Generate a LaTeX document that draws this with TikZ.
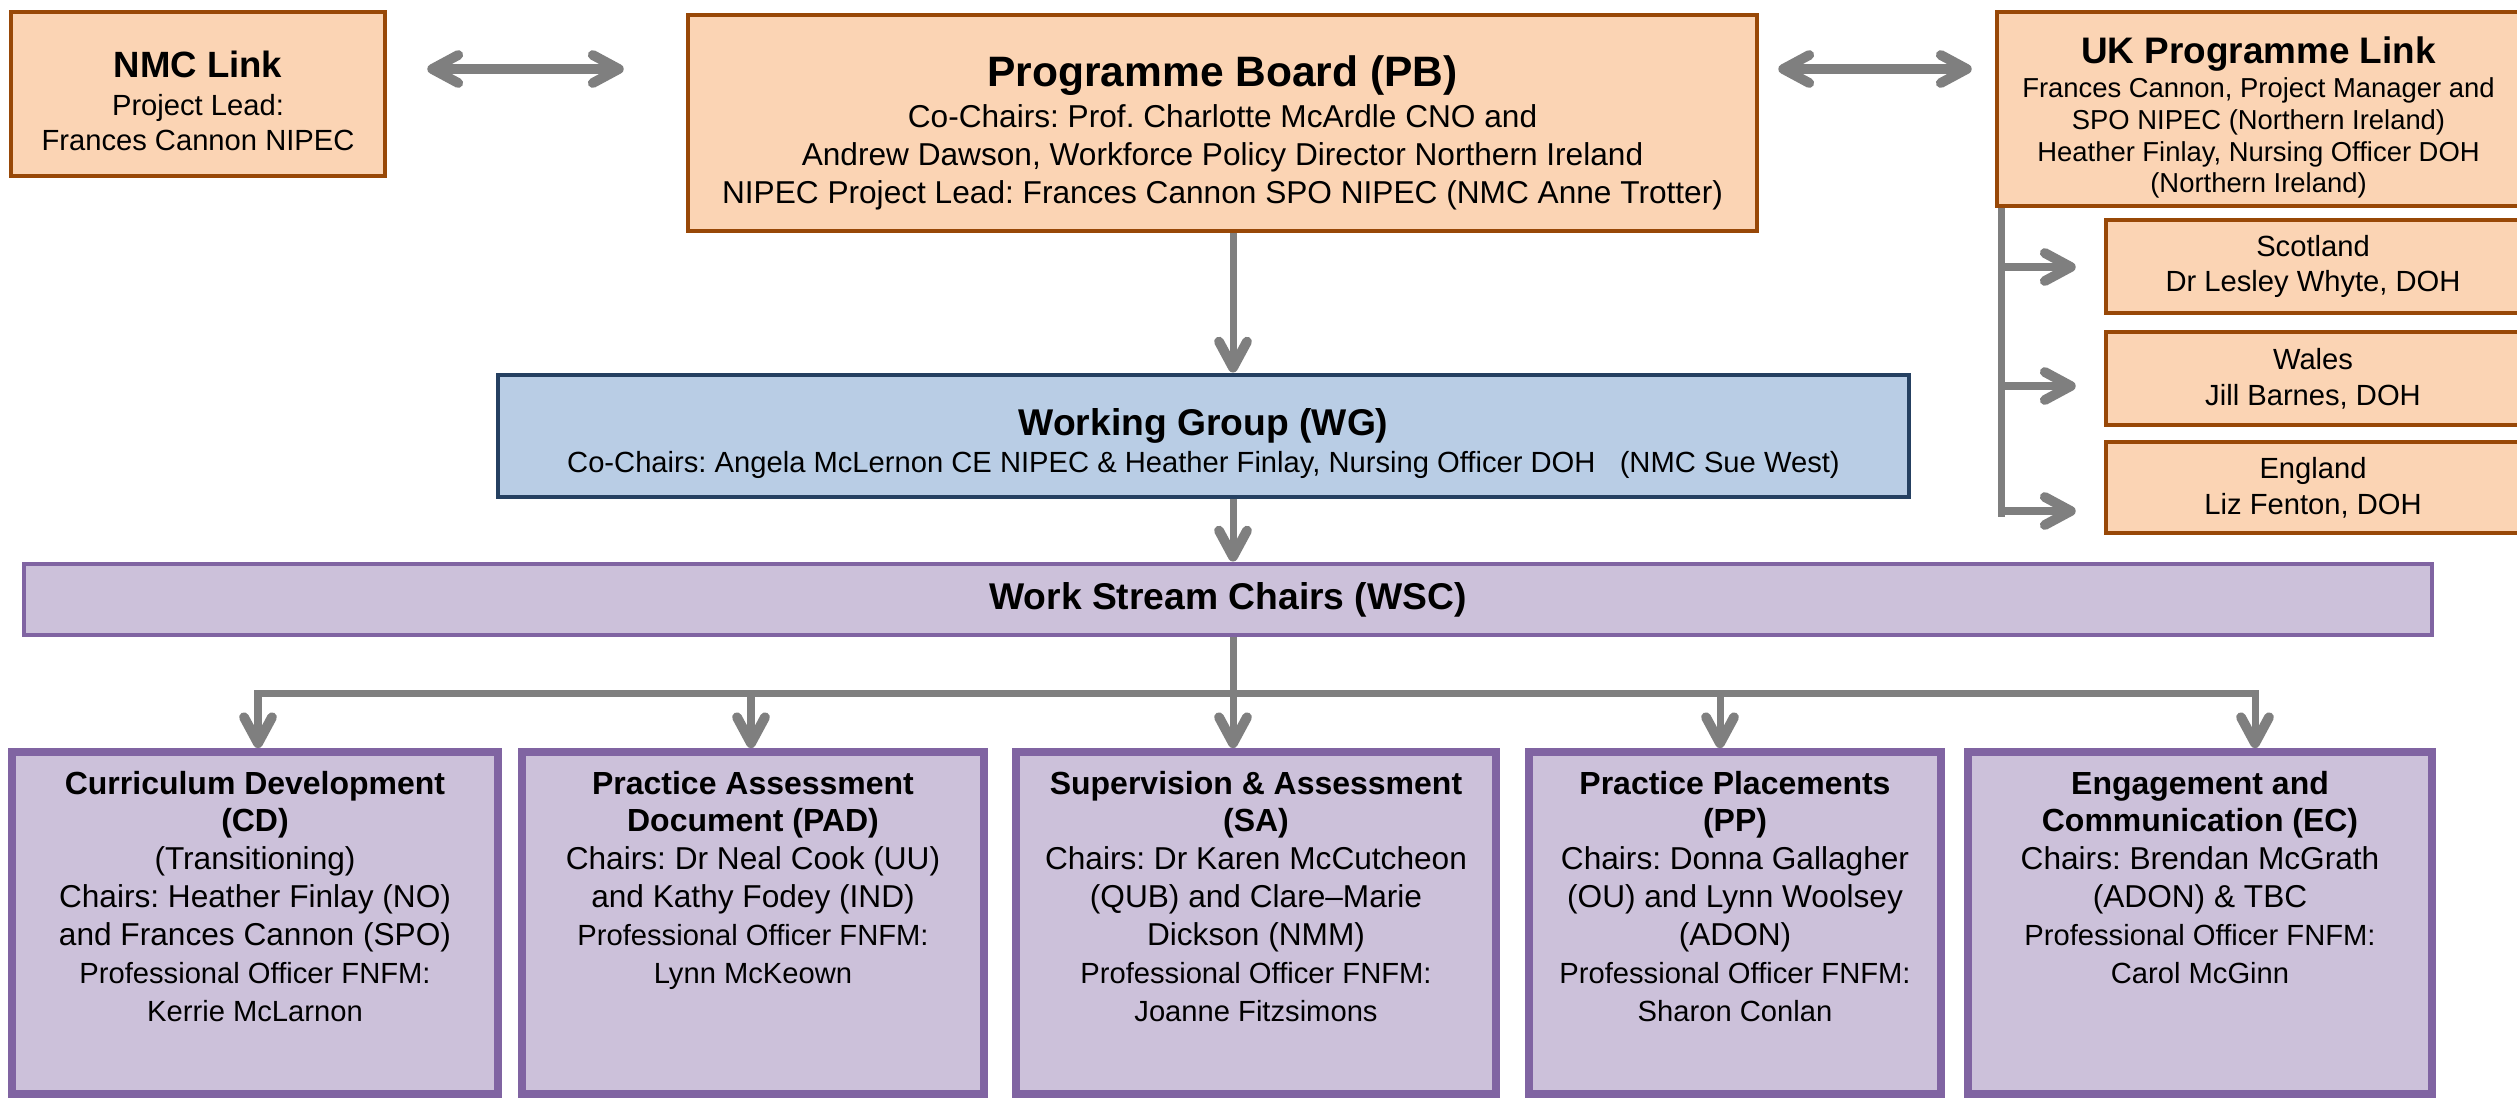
\documentclass[tikz,border=0pt]{standalone}
\usepackage{fontspec}
\setmainfont{Liberation Sans}
\usetikzlibrary{arrows.meta}
\frenchspacing
\definecolor{linkfill}{HTML}{FBD4B4}
\definecolor{linkline}{HTML}{984807}
\definecolor{groupfill}{HTML}{B9CDE5}
\definecolor{groupline}{HTML}{254061}
\definecolor{streamfill}{HTML}{CCC1DA}
\definecolor{streamline}{HTML}{8064A2}
\definecolor{arrowgrey}{HTML}{7F7F7F}
\newcommand{\headline}[2]{{\fontsize{#1}{#1}\selectfont\bfseries #2}}
\newcommand{\officer}[1]{{\fontsize{8.3}{10}\selectfont #1}}
\tikzstyle{linkbox}    = [rectangle, draw=linkline, fill=linkfill, line width=1.3pt, inner sep=0pt, align=center, font=\fontsize{8.3}{10}\selectfont]
\tikzstyle{groupbox}   = [rectangle, draw=groupline, fill=groupfill, line width=1.4pt, inner sep=0pt, align=center, font=\fontsize{8.3}{10.5}\selectfont]
\tikzstyle{chairbar}   = [rectangle, draw=streamline, fill=streamfill, line width=1.4pt, inner sep=0pt]
\tikzstyle{streambox}  = [rectangle, draw=streamline, fill=streamfill, line width=2.2pt, inner sep=0pt, minimum height=3.42cm]
\tikzstyle{streamtext} = [anchor=north, inner sep=0pt, align=center, font=\fontsize{9}{10.8}\selectfont]
\tikzstyle{arrow}      = [line width=2pt, draw=arrowgrey, -{Straight Barb[round, length=2.6mm, width=2.8mm, line width=2.8pt]}]
\tikzstyle{twoway}     = [line width=2.8pt, draw=arrowgrey, {Straight Barb[round, length=2.6mm, width=2.8mm]}-{Straight Barb[round, length=2.6mm, width=2.8mm]}]
\tikzstyle{bus}        = [line width=2pt, draw=arrowgrey, line cap=rect]

\begin{document}
\begin{tikzpicture}
    \useasboundingbox (0,0) rectangle (25.17,-11.02);

    \coordinate (spine) at (12.33,0);
    \coordinate (link row) at (0,-0.69);

    \node[linkbox, minimum width=3.74cm, minimum height=1.64cm] (nmc) at (1.98,-0.94)
        {\headline{10.4}{\rule{0pt}{11.5pt}NMC Link}\\[0.8pt] Project Lead:\\ Frances Cannon NIPEC};
    \node[linkbox, minimum width=10.69cm, minimum height=2.16cm, font=\fontsize{9}{10.8}\selectfont] (pb) at (12.225,-1.23)
        {\headline{12.1}{\rule{0pt}{14.5pt}Programme Board (PB)}\\[1pt] Co-Chairs: Prof. Charlotte McArdle CNO and\\ Andrew Dawson, Workforce Policy Director Northern Ireland\\ NIPEC Project Lead: Frances Cannon SPO NIPEC (NMC Anne Trotter)};
    \node[linkbox, minimum width=5.23cm, minimum height=1.94cm, font=\fontsize{7.8}{9.1}\selectfont] (uk) at (22.585,-1.09)
        {\headline{10.5}{\rule{0pt}{12.5pt}UK Programme Link}\\[0.5pt] Frances Cannon, Project Manager and\\ SPO NIPEC (Northern Ireland)\\ Heather Finlay, Nursing Officer DOH\\ (Northern Ireland)};

    \node[linkbox, minimum width=4.14cm, minimum height=0.93cm, font=\fontsize{8.3}{10.2}\selectfont] (scot) at (23.13,-2.665) {Scotland\\ Dr Lesley Whyte, DOH};
    \node[linkbox, minimum width=4.14cm, minimum height=0.93cm, font=\fontsize{8.3}{10.2}\selectfont] (wales) at (23.13,-3.785) {Wales\\ Jill Barnes, DOH};
    \node[linkbox, minimum width=4.14cm, minimum height=0.91cm, font=\fontsize{8.3}{10.2}\selectfont] (eng) at (23.13,-4.875) {England\\ Liz Fenton, DOH};

    \node[groupbox, minimum width=14.11cm, minimum height=1.22cm] (wg) at (12.035,-4.36)
        {\headline{10.6}{\rule{0pt}{12pt}Working Group (WG)}\\ Co-Chairs: Angela McLernon CE NIPEC \& Heather Finlay, Nursing Officer DOH\ \ \ (NMC Sue West)};
    \node[chairbar, minimum width=24.08cm, minimum height=0.71cm, font=\fontsize{10.6}{12}\selectfont\bfseries] (wsc) at (12.28,-5.995) {Work Stream Chairs (WSC)};

    \node[streambox, minimum width=4.86cm] (cd) at (2.55,-9.23) {};
    \node[streambox, minimum width=4.62cm] (pad) at (7.53,-9.23) {};
    \node[streambox, minimum width=4.80cm] (sa) at (12.56,-9.23) {};
    \node[streambox, minimum width=4.12cm] (pp) at (17.35,-9.23) {};
    \node[streambox, minimum width=4.64cm] (ec) at (22.00,-9.23) {};

    \node[streamtext] (cd text) at ([yshift=-0.22cm]cd.north)
        {\headline{9.1}{Curriculum Development}\\ \headline{9.1}{(CD)}\\ (Transitioning)\\ Chairs: Heather Finlay (NO)\\ and Frances Cannon (SPO)\\ \officer{Professional Officer FNFM:}\\ \officer{Kerrie McLarnon}};
    \node[streamtext] (pad text) at ([yshift=-0.22cm]pad.north)
        {\headline{9.1}{Practice Assessment}\\ \headline{9.1}{Document (PAD)}\\ Chairs: Dr Neal Cook (UU)\\ and Kathy Fodey (IND)\\ \officer{Professional Officer FNFM:}\\ \officer{Lynn McKeown}};
    \node[streamtext] (sa text) at ([yshift=-0.22cm]sa.north)
        {\headline{9.1}{Supervision \& Assessment}\\ \headline{9.1}{(SA)}\\ Chairs: Dr Karen McCutcheon\\ (QUB) and Clare--Marie\\ Dickson (NMM)\\ \officer{Professional Officer FNFM:}\\ \officer{Joanne Fitzsimons}};
    \node[streamtext] (pp text) at ([yshift=-0.22cm]pp.north)
        {\headline{9.1}{Practice Placements}\\ \headline{9.1}{(PP)}\\ Chairs: Donna Gallagher\\ (OU) and Lynn Woolsey\\ (ADON)\\ \officer{Professional Officer FNFM:}\\ \officer{Sharon Conlan}};
    \node[streamtext] (ec text) at ([yshift=-0.22cm]ec.north)
        {\headline{9.1}{Engagement and}\\ \headline{9.1}{Communication (EC)}\\ Chairs: Brendan McGrath\\ (ADON) \& TBC\\ \officer{Professional Officer FNFM:}\\ \officer{Carol McGinn}};

    \draw[twoway, shorten <=0.40cm, shorten >=0.62cm] (nmc.east |- link row) -- (pb.west |- link row);
    \draw[twoway, shorten <=0.19cm, shorten >=0.23cm] (pb.east |- link row) -- (uk.west |- link row);

    \draw[arrow] (pb.south -| spine) -- (wg.north -| spine);
    \draw[arrow] (wg.south -| spine) -- (wsc.north -| spine);

    \coordinate (stem end) at (20.01,-5.17);
    \coordinate (scot branch) at (20.01,-2.67);
    \coordinate (wales branch) at (20.01,-3.86);
    \coordinate (eng branch) at (20.01,-5.11);
    \draw[bus, line cap=butt] (uk.south -| stem end) -- (stem end);
    \draw[arrow, shorten >=0.28cm] (scot branch) -- (scot branch -| scot.west);
    \draw[arrow, shorten >=0.28cm] (wales branch) -- (wales branch -| wales.west);
    \draw[arrow, shorten >=0.28cm] (eng branch) -- (eng branch -| eng.west);

    \coordinate (bus left) at (2.58,-6.93);
    \coordinate (bus right) at (22.55,-6.93);
    \coordinate (pad drop) at (7.51,-6.93);
    \coordinate (pp drop) at (17.20,-6.93);
    \draw[bus] (bus left) -- (bus right);
    \draw[arrow] (wsc.south -| spine) -- (sa.north -| spine);
    \draw[arrow] (bus left) -- (bus left |- cd.north);
    \draw[arrow] (pad drop) -- (pad drop |- pad.north);
    \draw[arrow] (pp drop) -- (pp drop |- pp.north);
    \draw[arrow] (bus right) -- (bus right |- ec.north);
\end{tikzpicture}
\end{document}
